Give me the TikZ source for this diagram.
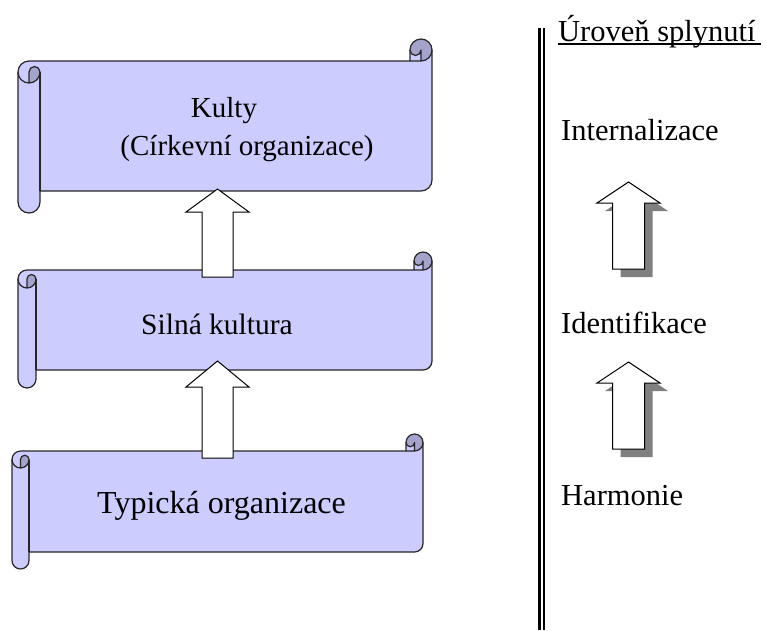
\documentclass[tikz,border=0pt]{standalone}
\usepackage{fontspec}
\setmainfont{Liberation Serif}
\definecolor{scrolllight}{HTML}{CCCCFF}
\definecolor{scrolldark}{HTML}{A3A3CC}
\definecolor{shadowgray}{HTML}{808080}

% Horizontal scroll: left x, top y, right x, bottom y, roll diameter
\newcommand\drawscroll[5]{%
  \pgfmathsetmacro\scrollhalf{#5/2}%
  \pgfmathsetmacro\scrollquarter{#5/4}%
  % body and rolls
  \path[scrollbody] (#1,{#2+1.5*#5})
    arc[start angle=180,end angle=270,radius=\scrollhalf]
    -- ({#3-#5},{#2+#5}) -- ({#3-#5},{#2+\scrollhalf})
    arc[start angle=180,end angle=360,radius=\scrollhalf]
    -- (#3,{#4-1.5*#5})
    arc[start angle=0,end angle=90,radius=\scrollhalf]
    -- ({#1+#5},{#4-#5}) -- ({#1+#5},{#4-\scrollhalf})
    arc[start angle=0,end angle=180,radius=\scrollhalf] -- cycle;
  % shaded curls
  \fill[scrolldark] ({#1+\scrollhalf},{#2+2*#5})
    arc[start angle=90,end angle=0,radius=\scrollhalf]
    arc[start angle=0,end angle=-180,radius=\scrollquarter] -- cycle;
  \fill[scrolldark] ({#3-\scrollhalf},{#2+#5})
    arc[start angle=90,end angle=-180,radius=\scrollhalf]
    arc[start angle=180,end angle=0,radius=\scrollquarter] -- cycle;
  % outline
  \draw[scrollline] (#1,{#2+1.5*#5})
    arc[start angle=180,end angle=270,radius=\scrollhalf]
    -- ({#3-#5},{#2+#5}) -- ({#3-#5},{#2+\scrollhalf})
    arc[start angle=180,end angle=360,radius=\scrollhalf]
    -- (#3,{#4-1.5*#5})
    arc[start angle=0,end angle=90,radius=\scrollhalf]
    -- ({#1+#5},{#4-#5}) -- ({#1+#5},{#4-\scrollhalf})
    arc[start angle=0,end angle=180,radius=\scrollhalf] -- cycle;
  \draw[scrollline] ({#3-#5},{#2+#5}) -- ({#3-\scrollhalf},{#2+#5})
    arc[start angle=90,end angle=0,radius=\scrollhalf];
  \draw[scrollline] ({#3-\scrollhalf},{#2+#5}) -- ({#3-\scrollhalf},{#2+\scrollhalf})
    arc[start angle=0,end angle=180,radius=\scrollquarter];
  \draw[scrollline] ({#1+\scrollhalf},{#2+2*#5}) -- ({#1+\scrollhalf},{#2+1.5*#5})
    arc[start angle=180,end angle=360,radius=\scrollquarter]
    arc[start angle=0,end angle=180,radius=\scrollhalf];
  \draw[scrollline] ({#1+#5},{#2+1.5*#5}) -- ({#1+#5},{#4-#5});
}

% Upward block arrow: centre x, tip y, head base y, bottom y, head half width, shaft half width, style
\newcommand\blockarrow[7]{%
  \path[#7] (#1,#2) -- ({#1+#5},#3) -- ({#1+#6},#3) -- ({#1+#6},#4)
    -- ({#1-#6},#4) -- ({#1-#6},#3) -- ({#1-#5},#3) -- cycle;
}

\tikzset{
  scrollbody/.style={fill=scrolllight},
  scrollline/.style={draw=black!85, line width=1.2pt, line join=round},
  arrowbody/.style={draw=black, fill=white, line width=1pt, line join=miter},
  arrowshadow/.style={fill=shadowgray},
  label/.style={inner sep=0pt, font=\fontsize{30.5}{36}\selectfont},
}

\begin{document}
\begin{tikzpicture}[x=1pt, y=-1pt]
  \useasboundingbox (0,0) rectangle (767,630);

  % scrolls
  \drawscroll{18}{39}{432}{213}{22}
  \drawscroll{18}{252}{432}{388}{18}
  \drawscroll{12}{434}{423}{569}{17}

  % arrows between the scrolls
  \blockarrow{217.5}{189}{212}{277}{31.5}{15.5}{arrowbody}
  \blockarrow{217.5}{361}{387}{458}{31.5}{15.5}{arrowbody}

  % scroll labels
  \node[label, font=\fontsize{29}{34}\selectfont, anchor=base] (kulty) at (224,117) {Kulty};
  \node[label, font=\fontsize{29}{34}\selectfont, anchor=base] (cirkevni) at (247,155) {(Církevní organizace)};
  \node[label, font=\fontsize{29.5}{35}\selectfont, anchor=base] (silna) at (217,334) {Silná kultura};
  \node[label, font=\fontsize{32}{38}\selectfont, anchor=base] (typicka) at (221.5,513) {Typická organizace};

  % separator
  \draw[line width=3pt] (539.5,28) -- (539.5,630);
  \draw[line width=2pt] (544,28) -- (544,630);

  % levels column
  \node[label, anchor=base west] (uroven) at (558,41) {Úroveň splynutí};
  \draw[line width=1.5pt] (uroven.base west) ++(0,3) coordinate (ulstart) -- ++(203,0) coordinate (ulend);
  \node[label, anchor=base west] (intern) at (561,140) {Internalizace};
  \node[label, anchor=base west] (ident) at (561,333) {Identifikace};
  \node[label, anchor=base west] (harm) at (561,505) {Harmonie};

  % shadowed arrows between the levels
  \blockarrow{636.5}{190}{211}{277}{31.5}{16}{arrowshadow}
  \blockarrow{628.5}{182}{203}{269}{31.5}{16}{arrowbody}
  \blockarrow{636.5}{370}{391}{457}{31.5}{16}{arrowshadow}
  \blockarrow{628.5}{362}{383}{449}{31.5}{16}{arrowbody}
\end{tikzpicture}
\end{document}
